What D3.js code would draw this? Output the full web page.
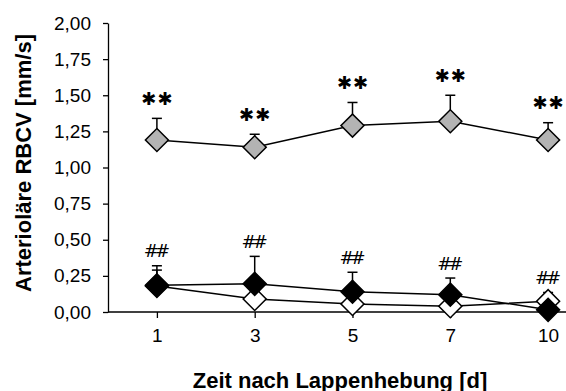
<!DOCTYPE html>
<html>
<head>
<meta charset="utf-8">
<script src="https://cdn.jsdelivr.net/npm/d3@7"></script>
<style>
  html, body { margin: 0; padding: 0; background: #ffffff; }
  svg { display: block; }
</style>
</head>
<body>
<svg id="chart" width="566" height="391"></svg>
<script>
// Time points after flap elevation (days)
const days = ["1", "3", "5", "7", "10"];

// Arteriolar red blood cell velocity [mm/s], mean and SD per group
const grayMean  = [1.19, 1.14, 1.29, 1.32, 1.19];
const graySd    = [0.15, 0.09, 0.16, 0.18, 0.12];
const blackMean = [0.185, 0.195, 0.14, 0.12, 0.015];
const blackSd   = [0.135, 0.19, 0.135, 0.115, 0.02];
const whiteMean = [0.18, 0.09, 0.055, 0.04, 0.075];
const whiteSd   = [0.11, 0.05, 0.03, 0.03, 0.06];

// Significance marks above each time point
const starMarks = ["**", "**", "**", "**", "**"];
const hashMarks = ["##", "##", "##", "##", "##"];

// Y axis tick values
const yTicks = [0, 0.25, 0.5, 0.75, 1.0, 1.25, 1.5, 1.75, 2.0];

const svg = d3.select("#chart");
const plotLeft = 108, plotTop = 23, plotBottom = 312, plotRight = 597;

const x = d3.scalePoint().domain(days).range([plotLeft, plotRight]).padding(0.5);
const y = d3.scaleLinear().domain([0, 2]).range([plotBottom, plotTop]);

const fmt = v => d3.format(".2f")(v).replace(".", ",");

// Y axis
const yAxis = svg.append("g")
  .attr("transform", `translate(${plotLeft},0)`)
  .call(d3.axisLeft(y).tickValues(yTicks).tickFormat(fmt).tickSize(5).tickPadding(12).tickSizeOuter(0));
yAxis.select(".domain").attr("stroke", "#000").attr("stroke-width", 1.3);
yAxis.selectAll(".tick line").attr("stroke", "#000").attr("stroke-width", 1.3);
yAxis.selectAll(".tick text")
  .attr("font-family", "'Liberation Sans', Arial, sans-serif")
  .attr("font-size", 19).attr("fill", "#000");

// X axis
const xAxis = svg.append("g")
  .attr("transform", `translate(0,${plotBottom})`)
  .call(d3.axisBottom(x).tickSize(6).tickPadding(11).tickSizeOuter(0));
xAxis.select(".domain").attr("stroke", "#000").attr("stroke-width", 1.3)
  .attr("d", `M${plotLeft},0H${plotRight}`);
xAxis.selectAll(".tick line").attr("stroke", "#000").attr("stroke-width", 1.3);
xAxis.selectAll(".tick text")
  .attr("font-family", "'Liberation Sans', Arial, sans-serif")
  .attr("font-size", 19).attr("fill", "#000");

// Axis titles
svg.append("text")
  .attr("transform", `translate(23,163) rotate(-90)`)
  .attr("text-anchor", "middle")
  .attr("dominant-baseline", "central")
  .attr("font-family", "'Liberation Sans', Arial, sans-serif")
  .attr("font-weight", "bold").attr("font-size", 22)
  .text("Arterioläre RBCV [mm/s]");

svg.append("text")
  .attr("x", 340).attr("y", 380)
  .attr("text-anchor", "middle")
  .attr("dominant-baseline", "central")
  .attr("font-family", "'Liberation Sans', Arial, sans-serif")
  .attr("font-weight", "bold").attr("font-size", 22)
  .text("Zeit nach Lappenhebung [d]");

const diamond = d3.symbol().type(d3.symbolSquare).size(265);
const line = d3.line().x(d => x(d.day)).y(d => y(d.v));

function drawSeries(means, sds, fill) {
  const data = days.map((day, i) => ({ day, v: means[i], sd: sds[i] }));
  const g = svg.append("g");
  g.append("path").datum(data)
    .attr("d", line).attr("fill", "none")
    .attr("stroke", "#000").attr("stroke-width", 1.5);
  const eb = g.selectAll(".err").data(data).join("g");
  eb.append("line")
    .attr("x1", d => x(d.day)).attr("x2", d => x(d.day))
    .attr("y1", d => y(d.v)).attr("y2", d => y(d.v + d.sd))
    .attr("stroke", "#000").attr("stroke-width", 1.5);
  eb.append("line")
    .attr("x1", d => x(d.day) - 5).attr("x2", d => x(d.day) + 5)
    .attr("y1", d => y(d.v + d.sd)).attr("y2", d => y(d.v + d.sd))
    .attr("stroke", "#000").attr("stroke-width", 1.5);
  g.selectAll(".mk").data(data).join("path")
    .attr("d", diamond)
    .attr("transform", d => `translate(${x(d.day)},${y(d.v)}) rotate(45)`)
    .attr("fill", fill).attr("stroke", "#000").attr("stroke-width", 1.5);
}

drawSeries(whiteMean, whiteSd, "#ffffff");
drawSeries(blackMean, blackSd, "#000000");
drawSeries(grayMean, graySd, "#b3b3b3");

// Significance marks
svg.append("g").selectAll("text").data(days).join("text")
  .attr("x", d => x(d))
  .attr("y", (d, i) => y(grayMean[i] + graySd[i]) - 20)
  .attr("text-anchor", "middle")
  .attr("dominant-baseline", "central")
  .attr("font-family", "'DejaVu Sans', sans-serif")
  .attr("font-size", 18)
  .attr("letter-spacing", 1)
  .attr("dx", 0.5)
  .text((d, i) => starMarks[i].replace(/\*/g, "\u2731"));

svg.append("g").selectAll("text").data(days).join("text")
  .attr("x", d => x(d))
  .attr("y", (d, i) => Math.min(y(blackMean[i] + blackSd[i]), y(whiteMean[i] + whiteSd[i])) - 15)
  .attr("text-anchor", "middle")
  .attr("dominant-baseline", "central")
  .attr("font-family", "'DejaVu Sans', sans-serif")
  .attr("font-size", 18)
  .attr("letter-spacing", -4)
  .attr("dx", -2)
  .text((d, i) => hashMarks[i]);
</script>
</body>
</html>
